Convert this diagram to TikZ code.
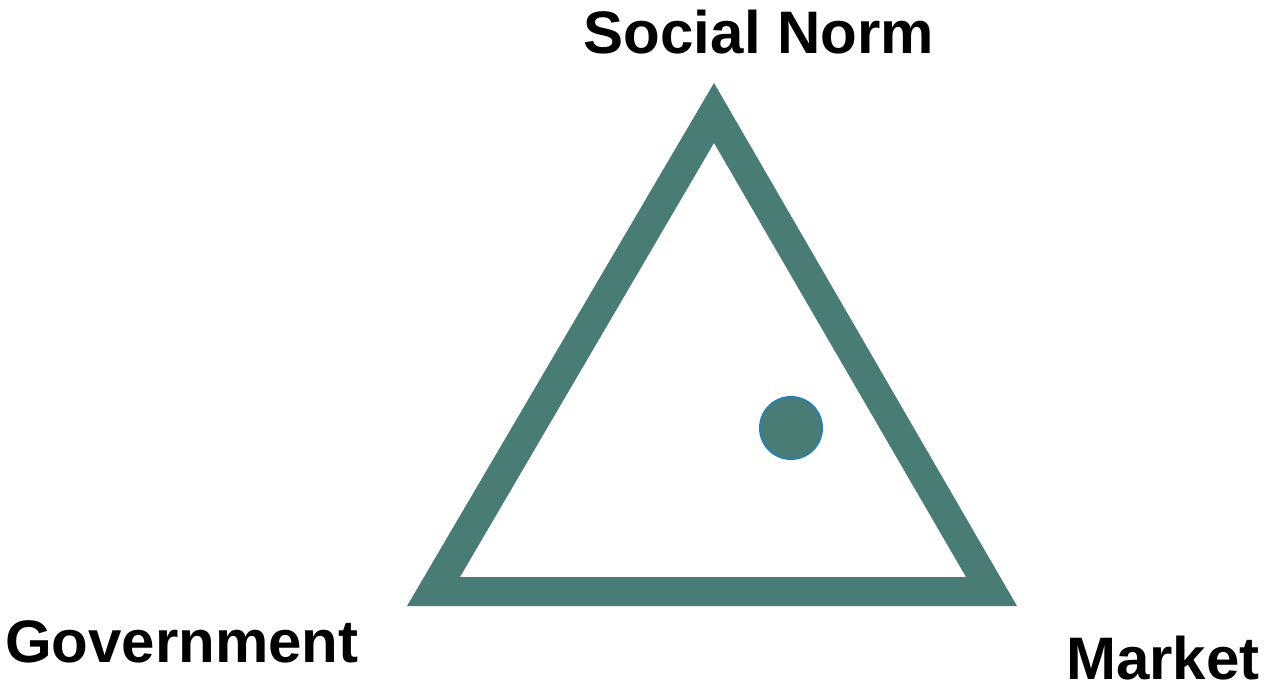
\documentclass[tikz,border=0pt]{standalone}
\usepackage{fontspec}
\setmainfont{Liberation Sans}
\definecolor{tri}{HTML}{4A7C76}
\definecolor{rim}{HTML}{2A80A8}
\tikzset{lbl/.style={font=\fontsize{60}{62}\selectfont\bfseries, inner sep=0pt, text=black}}
\begin{document}
\begin{tikzpicture}[x=1pt,y=-1pt]
\useasboundingbox (0,0) rectangle (1269,684);
\coordinate (top) at (714,83);
\coordinate (bl) at (407,606);
\coordinate (br) at (1017,606);
\fill[tri, even odd rule] (top) -- (bl) -- (br) -- cycle
  (714,143) -- (460,577) -- (966,577) -- cycle;
\node[circle, fill=tri, draw=rim, line width=2pt, minimum size=62pt, inner sep=0pt] (dot) at (791,428) {};
\node[lbl, anchor=base] (sn) at (759,54) {Social Norm};
\node[lbl, anchor=base west] (gov) at (5,662) {Government};
\node[lbl, anchor=base west] (mk) at (1066,679) {Market};
\end{tikzpicture}
\end{document}
